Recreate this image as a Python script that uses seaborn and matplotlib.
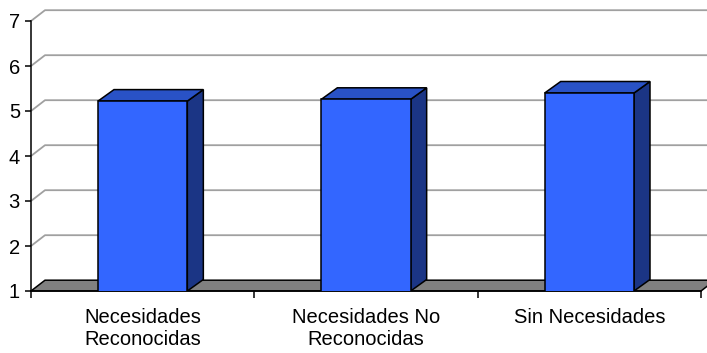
import matplotlib
matplotlib.use("Agg")
import matplotlib.pyplot as plt
from matplotlib.patches import Polygon
import seaborn as sns
import pandas as pd

categories = ["Necesidades\nReconocidas", "Necesidades No\nReconocidas", "Sin Necesidades"]
values = [5.22, 5.26, 5.40]
y_ticks = [1, 2, 3, 4, 5, 6, 7]

sns.set_style("white")
plt.rcParams['font.family'] = ['Liberation Sans', 'DejaVu Sans']
plt.rcParams['text.color'] = 'black'
plt.rcParams['xtick.color'] = 'black'
plt.rcParams['ytick.color'] = 'black'
plt.rcParams['xtick.labelcolor'] = 'black'
plt.rcParams['ytick.labelcolor'] = 'black'

W, H = 707, 353
fig = plt.figure(figsize=(W / 100, H / 100), dpi=100)
left_px, right_px, base_px, top_px = 31, 701, 291, 21
ax = fig.add_axes([left_px / W, 1 - base_px / H, (right_px - left_px) / W, (base_px - top_px) / H])

ymin, ymax = 1, 7
ax.set_xlim(-0.5, len(categories) - 0.5)
ax.set_ylim(ymin, ymax)

# depth offsets in data units
px_x = (right_px - left_px) / len(categories)
px_y = (base_px - top_px) / (ymax - ymin)
wdx, wdy = 14 / px_x, 10.8 / px_y
bdx, bdy = 16 / px_x, 11.5 / px_y

grid_col = "#A0A0A0"
x0, x1 = -0.5, len(categories) - 0.5
for v in y_ticks[1:]:
    ax.plot([x0, x0 + wdx, x1 + wdx + 1], [v, v + wdy, v + wdy], color=grid_col, lw=1.3,
            clip_on=False, zorder=0, solid_capstyle='butt')

# floor
floor = Polygon([(x0, ymin), (x1, ymin), (x1 + wdx, ymin + wdy), (x0 + wdx, ymin + wdy)],
                closed=True, facecolor="#808080", edgecolor="black", lw=1.1, clip_on=False, zorder=1)
ax.add_patch(floor)

df = pd.DataFrame({"cat": categories, "val": values})
sns.barplot(data=df, x="cat", y="val", color="#3366FF", saturation=1, width=0.40,
            edgecolor="black", linewidth=1.1, ax=ax, zorder=3)

for p in ax.patches:
    if p is floor:
        continue
    bx0 = p.get_x()
    bx1 = bx0 + p.get_width()
    v = p.get_height()
    side = Polygon([(bx1, ymin), (bx1 + bdx, ymin + bdy), (bx1 + bdx, v + bdy), (bx1, v)],
                   closed=True, facecolor="#1B3585", edgecolor="black", lw=1.1, zorder=2)
    top = Polygon([(bx0, v), (bx1, v), (bx1 + bdx, v + bdy), (bx0 + bdx, v + bdy)],
                  closed=True, facecolor="#2952C6", edgecolor="black", lw=1.1, zorder=2)
    ax.add_patch(side)
    ax.add_patch(top)

for s in ["top", "right"]:
    ax.spines[s].set_visible(False)
ax.spines["left"].set_color("black")
ax.spines["left"].set_linewidth(1.1)
ax.spines["bottom"].set_color("black")
ax.spines["bottom"].set_linewidth(1.1)
ax.spines["left"].set_zorder(5)

ax.set_yticks(y_ticks)
ax.set_yticklabels([str(t) for t in y_ticks])
ax.tick_params(axis="y", direction="out", length=4, width=1.1, pad=4, labelsize=14.5,
               left=True, color="black", labelcolor="black")
ax.set_xticks(range(len(categories)))
ax.set_xticklabels(categories, linespacing=1.25)
ax.set_xticks([i - 0.5 for i in range(len(categories) + 1)], minor=True)
ax.tick_params(axis="x", which="major", length=0, pad=12, labelsize=14.5, labelcolor="black")
ax.tick_params(axis="x", which="minor", direction="out", length=5, width=1.1, color="black", bottom=True)
ax.set_xlabel("")
ax.set_ylabel("")
ax.grid(False)

fig.savefig("out.png", dpi=100)
